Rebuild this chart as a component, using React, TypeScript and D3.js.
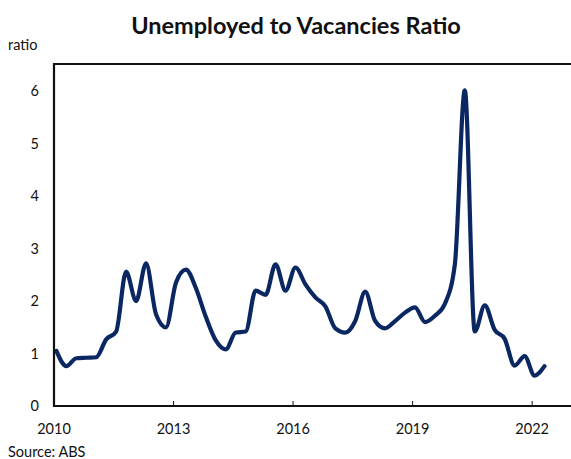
import React from "react";
import * as d3 from "d3";

const startYear = 2010;
// quarterly observations (Feb, May, Aug, Nov), Feb-2010 .. May-2022
const ratio: number[] = [
  1.05, 0.76, 0.91, 0.92, 0.93, 1.27, 1.42, 2.56, 2.0, 2.72,
  1.75, 1.5, 2.35, 2.6, 2.25, 1.7, 1.25, 1.08, 1.4, 1.42,
  2.2, 2.12, 2.7, 2.2, 2.64, 2.32, 2.07, 1.9, 1.48, 1.4,
  1.62, 2.18, 1.62, 1.48, 1.62, 1.78, 1.88, 1.6, 1.72, 1.95,
  2.7, 6.02, 1.42, 1.92, 1.45, 1.28, 0.77, 0.95, 0.58, 0.76,
];
const xTicks: number[] = [2010, 2013, 2016, 2019, 2022];
const yTicks: number[] = [0, 1, 2, 3, 4, 5, 6];

const W = 571;
const H = 459;
const left = 54;
const right = 572;
const top = 64;
const bottom = 406;

export default function App() {
  const x = d3.scaleLinear().domain([2010, 2023]).range([left, right]);
  const y = d3.scaleLinear().domain([0, 6.52]).range([bottom, top]);
  const pts = ratio.map((v, i) => ({ t: startYear + 0.06 + i * 0.25, v }));
  const line = d3
    .line<{ t: number; v: number }>()
    .x((d) => x(d.t))
    .y((d) => y(d.v))
    .curve(d3.curveMonotoneX);
  const font = "Lato, 'Noto Sans', sans-serif";
  return (
    <svg
      width={W}
      height={H}
      style={{ position: "absolute", left: 0, top: 0, display: "block", background: "#fff" }}
      fontFamily={font}
    >
      <text x={296} y={34} textAnchor="middle" fontSize={23.5} fontWeight={700} fill="#111">
        Unemployed to Vacancies Ratio
      </text>
      <text x={8} y={50} fontSize={14.5} fill="#111">ratio</text>
      <defs>
        <clipPath id="plot">
          <rect x={left} y={top - 10} width={right - left} height={bottom - top + 10} />
        </clipPath>
      </defs>
      <path
        d={line(pts) || ""}
        fill="none"
        stroke="#0b2762"
        strokeWidth={4.2}
        strokeLinejoin="round"
        strokeLinecap="round"
        clipPath="url(#plot)"
      />
      {/* frame */}
      <line x1={left} x2={W} y1={top} y2={top} stroke="#111" strokeWidth={2.2} />
      <line x1={left} x2={left} y1={top - 1} y2={bottom + 1} stroke="#111" strokeWidth={2.2} />
      <line x1={left - 1} x2={W} y1={bottom} y2={bottom} stroke="#111" strokeWidth={2.2} />
      {xTicks.map((t) => (
        <g key={t}>
          {t !== 2010 && (
            <line x1={x(t)} x2={x(t)} y1={bottom} y2={bottom - 5} stroke="#111" strokeWidth={1} />
          )}
          <text x={x(t)} y={434} textAnchor="middle" fontSize={14.5} fill="#111">
            {t}
          </text>
        </g>
      ))}
      {yTicks.map((v) => (
        <text key={v} x={39} y={y(v) + 5} textAnchor="end" fontSize={14.5} fill="#111">
          {v}
        </text>
      ))}
      <text x={8} y={457} fontSize={14.5} fill="#111">Source: ABS</text>
    </svg>
  );
}
